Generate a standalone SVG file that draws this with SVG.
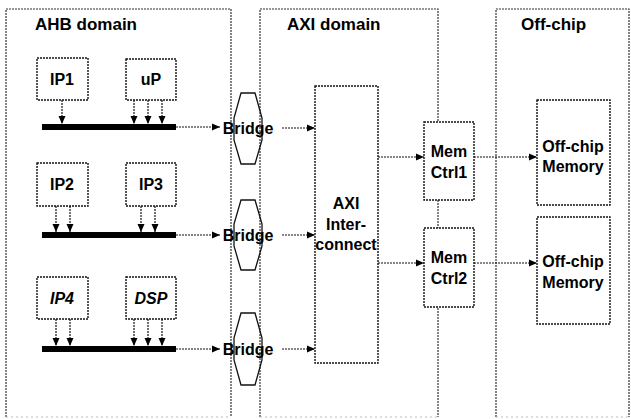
<svg xmlns="http://www.w3.org/2000/svg" width="631" height="419" viewBox="0 0 631 419">
<defs>
<style>
.panel{fill:none;stroke:#333;stroke-width:1.2;stroke-dasharray:2 1}
.panelb{fill:none;stroke:#bbb;stroke-width:1;stroke-dasharray:2 3}
.box{fill:#fff;stroke:#111;stroke-width:1.4;stroke-dasharray:2 1}
.hex{fill:none;stroke:#111;stroke-width:1.3}
.bus{stroke:#000;stroke-width:6}
.conn{fill:none;stroke:#111;stroke-width:1.2;stroke-dasharray:2 1;marker-end:url(#ah)}
.t{font-family:"Liberation Sans",Arial,sans-serif;font-weight:bold;font-size:16px;fill:#000;text-anchor:middle}
.title{font-family:"Liberation Sans",Arial,sans-serif;font-weight:bold;font-size:17px;fill:#000}
</style>
<marker id="ah" viewBox="0 0 8 8" refX="8" refY="4" markerWidth="8" markerHeight="8" markerUnits="userSpaceOnUse" orient="auto">
<path d="M0,0.5 L8,4 L0,7.5 Z" fill="#000"/>
</marker>
</defs>
<rect width="631" height="419" fill="#fff"/>

<g id="panel-ahb">
<path class="panel" d="M6,417 V9 H231 V417"/>
<path class="panelb" d="M6,417 H231"/>
<text class="title" x="35" y="30">AHB domain</text>
</g>
<g id="panel-axi">
<path class="panel" d="M260,417 V9 H438 V417"/>
<path class="panelb" d="M260,417 H438"/>
<text class="title" x="287" y="30">AXI domain</text>
</g>
<g id="panel-offchip">
<path class="panel" d="M496,417 V9 H629 V417"/>
<path class="panelb" d="M496,417 H629"/>
<text class="title" x="521" y="30">Off-chip</text>
</g>

<g id="connectors">
<line class="conn" x1="62" y1="100" x2="62" y2="124"/>
<line class="conn" x1="134" y1="100" x2="134" y2="124"/>
<line class="conn" x1="148" y1="100" x2="148" y2="124"/>
<line class="conn" x1="162" y1="100" x2="162" y2="124"/>
<line class="conn" x1="56" y1="206" x2="56" y2="232"/>
<line class="conn" x1="70" y1="206" x2="70" y2="232"/>
<line class="conn" x1="141" y1="206" x2="141" y2="232"/>
<line class="conn" x1="155" y1="206" x2="155" y2="232"/>
<line class="conn" x1="56" y1="319" x2="56" y2="346"/>
<line class="conn" x1="70" y1="319" x2="70" y2="346"/>
<line class="conn" x1="134" y1="319" x2="134" y2="346"/>
<line class="conn" x1="148" y1="319" x2="148" y2="346"/>
<line class="conn" x1="162" y1="319" x2="162" y2="346"/>
<line class="conn" x1="176" y1="127" x2="220" y2="127"/>
<line class="conn" x1="176" y1="235" x2="220" y2="235"/>
<line class="conn" x1="176" y1="349" x2="220" y2="349"/>
<line class="conn" x1="282" y1="128" x2="315" y2="128"/>
<line class="conn" x1="282" y1="235" x2="315" y2="235"/>
<line class="conn" x1="282" y1="349" x2="315" y2="349"/>
<line class="conn" x1="378" y1="157" x2="424" y2="157"/>
<line class="conn" x1="378" y1="263" x2="424" y2="263"/>
<line class="conn" x1="474" y1="157" x2="537" y2="157"/>
<line class="conn" x1="474" y1="263" x2="537" y2="263"/>
</g>

<g id="bus1"><line class="bus" x1="42" y1="127" x2="176" y2="127"/></g>
<g id="bus2"><line class="bus" x1="42" y1="235" x2="176" y2="235"/></g>
<g id="bus3"><line class="bus" x1="42" y1="349" x2="176" y2="349"/></g>

<g id="ip1"><rect class="box" x="37" y="58" width="51" height="42"/><text class="t" x="62" y="85">IP1</text></g>
<g id="up"><rect class="box" x="126" y="59" width="50" height="41"/><text class="t" x="151" y="85">uP</text></g>
<g id="ip2"><rect class="box" x="37" y="163" width="51" height="43"/><text class="t" x="62" y="190">IP2</text></g>
<g id="ip3"><rect class="box" x="126" y="163" width="50" height="43"/><text class="t" x="151" y="190">IP3</text></g>
<g id="ip4"><rect class="box" x="37" y="277" width="51" height="42"/><text class="t" x="62" y="304" font-style="italic">IP4</text></g>
<g id="dsp"><rect class="box" x="126" y="277" width="50" height="42"/><text class="t" x="151" y="304" font-style="italic">DSP</text></g>

<g id="bridge1"><polygon class="hex" points="241,93 255,93 262,118 262,140 255,164 241,164 234,140 234,118"/><text class="t" x="248" y="134">Bridge</text></g>
<g id="bridge2"><polygon class="hex" points="241,200 255,200 262,224 262,246 255,270 241,270 234,246 234,224"/><text class="t" x="248" y="241">Bridge</text></g>
<g id="bridge3"><polygon class="hex" points="241,313 255,313 262,338 262,360 255,385 241,385 234,360 234,338"/><text class="t" x="248" y="355">Bridge</text></g>

<g id="axi-interconnect"><rect class="box" x="315" y="86" width="63" height="277"/>
<text class="t" x="346" y="209">AXI</text><text class="t" x="346" y="230">Inter-</text><text class="t" x="346" y="250">connect</text></g>

<g id="memctrl1"><rect class="box" x="424" y="122" width="50" height="78"/><text class="t" x="449" y="157">Mem</text><text class="t" x="449" y="178">Ctrl1</text></g>
<g id="memctrl2"><rect class="box" x="424" y="228" width="50" height="79"/><text class="t" x="449" y="263">Mem</text><text class="t" x="449" y="284">Ctrl2</text></g>

<g id="offchip-mem1"><rect class="box" x="537" y="100" width="73" height="105"/><text class="t" x="573" y="152">Off-chip</text><text class="t" x="573" y="172">Memory</text></g>
<g id="offchip-mem2"><rect class="box" x="537" y="217" width="73" height="107"/><text class="t" x="573" y="267">Off-chip</text><text class="t" x="573" y="288">Memory</text></g>
</svg>
